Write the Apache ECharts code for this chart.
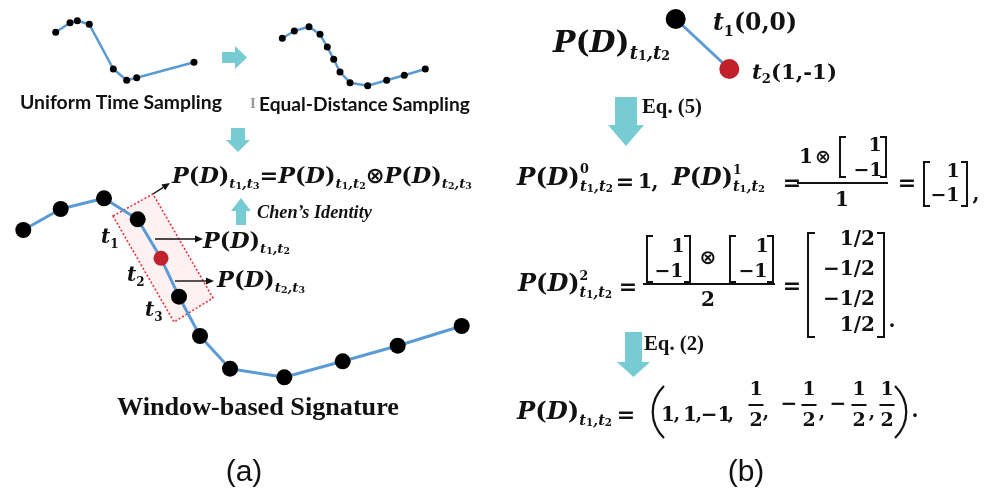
<!DOCTYPE html>
<html><head><meta charset="utf-8">
<script src="https://cdn.jsdelivr.net/npm/echarts@6/dist/echarts.min.js"></script>
<style>html,body{margin:0;padding:0;background:#fff}#c{width:985px;height:501px}</style>
</head><body><div id="c"></div>
<script>
// ---- data (diagram coordinates) ----
const uniformPts = [[55.7,32.3],[70,22.7],[77.3,20.7],[89.3,24.3],[113.3,69],[126.7,80.3],[136.7,77.7],[194,62.3]];
const equalPts = [[282.3,38.3],[294.3,31],[309,26.7],[320,34.3],[327.3,47],[333.7,59.3],[340,72],[350,82.7],[367.7,85.7],[386.7,80.3],[404.3,75.3],[425.3,69]];
const windowPts = [[23.3,230],[60.7,209],[104,198.3],[137.7,219.3],[161,258.3],[179,296.7],[200,336],[230,368.7],[284.3,377.3],[342.7,361.3],[397.7,345.7],[461.7,326]];
const redIndex = 4;
const windowBox = [[113,216],[153,194],[213,298],[174,322]];
const segmentPts = [[675.7,19],[729.3,69]];
const labels = {uniform:'Uniform Time Sampling', equal:'Equal-Distance Sampling', window:'Window-based Signature', chen:'Chen\u2019s Identity', eq5:'Eq. (5)', eq2:'Eq. (2)', a:'(a)', b:'(b)'};

const BLUE='#5B9BD5', RED='#C0212B', CYAN='#77CBD2', INK='#111';
const meas=document.createElement('canvas').getContext('2d');
const FAM={I:{f:'"DejaVu Serif"',w:'bold',s:'italic'},B:{f:'"DejaVu Serif"',w:'bold',s:'normal'},S:{f:'"DejaVu Sans"',w:'bold',s:'normal'},
  L:{f:'Lato',w:'bold',s:'normal'},T:{f:'"Liberation Serif"',w:'bold',s:'normal'},TI:{f:'"Liberation Serif"',w:'bold',s:'italic'},A:{f:'"Liberation Sans"',w:'normal',s:'normal'}};
function fontStr(k,size){const F=FAM[k];return `${F.s} ${F.w} ${size}px ${F.f}`;}
function tw(t,k,size){meas.font=fontStr(k,size);return meas.measureText(t).width;}
const g=[];
function T(text,x,y,k,size,align,color){const F=FAM[k];
  g.push({type:'text',z:20,silent:true,style:{text,x,y,fill:color||INK,fontSize:size,fontFamily:F.f.replace(/"/g,''),fontWeight:F.w,fontStyle:F.s,
    align:align||'center',verticalAlign:'middle',textAlign:align||'center',textVerticalAlign:'middle'}});}
function fitT(text,x,y,k,w,align,color){const s=20*w/tw(text,k,20);T(text,x,y,k,s,align||'left',color);}
function runWidth(tokens,base){let x=0,m=0;for(const t of tokens){const w=tw(t[0],t[1],base*t[2]);m=Math.max(m,x+w);if(!t[4])x+=w;}return m;}
function run(x0,y,tokens,base,target){if(target)base=base*target/runWidth(tokens,base);let x=x0;
  for(const t of tokens){const s=base*t[2];const w=tw(t[0],t[1],s);T(t[0],x,y+t[3]*base,t[1],s,'left');if(!t[4])x+=w;}return x;}
const PD=[['P','I',1,0],['(','B',1,0],['D','I',1,0],[')','B',1,0]];
function SUB(a,b){return [['t','I',.6,.33],[a,'B',.42,.44],[',','I',.6,.33],['t','I',.6,.33],[b,'B',.42,.44]];}
function SUP(c){return [[c,'B',.52,-.36,true]];}
function line(x1,y1,x2,y2,w,c){g.push({type:'line',z:15,silent:true,shape:{x1,y1,x2,y2},style:{stroke:c||INK,lineWidth:w||2}});}
function poly(points,fill){g.push({type:'polygon',z:15,silent:true,shape:{points},style:{fill}});}
function arrow(x1,y1,x2,y2){const a=Math.atan2(y2-y1,x2-x1),L=8,W=3.5;
  const bx=x2-L*Math.cos(a),by=y2-L*Math.sin(a);line(x1,y1,bx,by,1.4);
  poly([[x2,y2],[bx+W*Math.sin(a),by-W*Math.cos(a)],[bx-W*Math.sin(a),by+W*Math.cos(a)]],INK);}
function bracketL(x,y1,y2,w){g.push({type:'polyline',z:15,silent:true,shape:{points:[[x+w,y1],[x,y1],[x,y2],[x+w,y2]]},style:{stroke:INK,lineWidth:2,fill:null}});}
function bracketR(x,y1,y2,w){g.push({type:'polyline',z:15,silent:true,shape:{points:[[x-w,y1],[x,y1],[x,y2],[x-w,y2]]},style:{stroke:INK,lineWidth:2,fill:null}});}
function paren(x1,y1,x2,y2,cx){g.push({type:'bezierCurve',z:15,silent:true,shape:{x1,y1,x2,y2,cpx1:cx,cpy1:y1+(y2-y1)*0.28,cpx2:cx,cpy2:y1+(y2-y1)*0.72},style:{stroke:INK,lineWidth:2.2,fill:null}});}

// ---- left panel texts ----
fitT(labels.uniform,20,103,'L',202);
fitT(labels.equal,259,105,'L',211);
T('I',253,104,'T',15,'center','#999');
run(172,177,[...PD,...SUB('1','3'),['=','B',1,0],...PD,...SUB('1','2'),['\u2297','S',1,0],...PD,...SUB('2','3')],20,300);
fitT(labels.chen,257,213,'TI',115);
run(203,242,[...PD,...SUB('1','2')],20,87);
run(217,281,[...PD,...SUB('2','3')],20,88);
run(101,238,[['t','I',1,0],['1','B',.6,.33]],20);
run(127,276,[['t','I',1,0],['2','B',.6,.33]],20);
run(145,311,[['t','I',1,0],['3','B',.6,.33]],20);
arrow(153,194,170,183);
arrow(155,239,203,239);
arrow(175,281,214,281);
fitT(labels.window,117,408,'T',282);
T(labels.a,244,473,'A',30);
// cyan arrows
poly([[222,52],[235,52],[235,46],[247,57.5],[235,69],[235,63],[222,63]],CYAN);
poly([[231,128],[245,128],[245,140],[250,140],[238,152],[226,140],[231,140]],CYAN);
poly([[236,225],[246,225],[246,211],[251,211],[241,198],[231,211],[236,211]],CYAN);

// ---- right panel ----
run(553,44,[...PD,...SUB('1','2')],26,117);
run(713,24,[['t','I',1,0],['1','B',.62,.33],['(0,0)','B',1,0]],22,84);
run(752,73,[['t','I',1,0],['2','B',.62,.33],['(1,-1)','B',1,0]],22,85);
poly([[615,97],[637,97],[637,125],[644,125],[626,146],[608,125],[615,125]],CYAN);
fitT(labels.eq5,642,108,'T',60);
// row 1
run(517,179,[...PD,...SUP('0'),...SUB('1','2')],22,96);
T('=',625,183,'B',22); T('1',645,183,'B',21); T(',',655,183,'B',20);
run(672,179,[...PD,...SUP('1'),...SUB('1','2')],22,93);
T('=',792,184,'B',22);
T('1',806,158,'B',20); T('\u2297',823,158,'S',19);
bracketL(840,137,177,6); T('1',875,146,'B',19); T('\u22121',868,171,'B',19); bracketR(886,137,177,6);
line(797,183,888,183,2);
T('1',842,201,'B',20);
T('=',907,184,'B',22);
bracketL(924,162,206,6); T('1',953,172,'B',19); T('\u22121',945,196,'B',19); bracketR(967,162,206,6);
T(',',976,195,'B',20);
// row 2
run(518,285,[...PD,...SUP('2'),...SUB('1','2')],22,94);
T('=',628,288,'B',22);
bracketL(647,236,282,6); T('1',678,247,'B',19); T('\u22121',669,272,'B',19); bracketR(690,236,282,6);
T('\u2297',708,259,'S',20);
bracketL(730,236,282,6); T('1',762,247,'B',19); T('\u22121',753,272,'B',19); bracketR(773,236,282,6);
line(643,284,775,284,2);
T('2',708,301,'B',20);
T('=',792,287,'B',22);
bracketL(808,233,337,7);
T('1/2',875,240,'B',20,'right'); T('\u22121/2',875,270,'B',20,'right'); T('\u22121/2',875,300,'B',20,'right'); T('1/2',875,326,'B',20,'right');
bracketR(884,233,337,7);
T('.',892,322,'B',20);
// Eq (2)
poly([[625,332],[642,332],[642,362],[650,362],[633.5,377],[617,362],[625,362]],CYAN);
fitT(labels.eq2,644,345,'T',60);
// row 3
run(517,413,[...PD,...SUB('1','2')],22,95);
T('=',626,416,'B',22);
paren(664,386,664,438,649);
T('1',668,416,'B',20); T(',',677,415,'B',18);
T('1',690,416,'B',20); T(',',699,415,'B',18);
T('\u22121',716,416,'B',20); T(',',731,415,'B',18);
function frac(cx,w){T('1',cx,390,'B',19);line(cx-w/2,405,cx+w/2,405,2);T('2',cx,421,'B',19);}
frac(756,15); T(',',766,413,'B',18);
T('\u2212',789,405,'B',20); frac(809,15); T(',',822,413,'B',18);
T('\u2212',838,405,'B',20); frac(859,15); T(',',872,413,'B',18);
frac(887,15);
paren(895,386,895,438,910);
T('.',915,412,'B',20);
T(labels.b,746,473,'A',30);

const chart=echarts.init(document.getElementById('c'),null,{renderer:'canvas'});
const lineBase={type:'line',symbol:'circle',showAllSymbol:true,silent:true,animation:false,emphasis:{disabled:true},z:3};
chart.setOption({
  animation:false,
  grid:{left:0,right:0,top:0,bottom:0},
  xAxis:{type:'value',min:0,max:985,show:false},
  yAxis:{type:'value',min:0,max:501,inverse:true,show:false},
  series:[
    {type:'custom',coordinateSystem:'cartesian2d',silent:true,z:1,data:[[0,0]],
     renderItem:(p,api)=>({type:'polygon',shape:{points:windowBox.map(pt=>api.coord(pt))},style:{fill:'#FDF1F1',stroke:'#E8333A',lineWidth:1.6,lineDash:[2,2]}})},
    {...lineBase,data:uniformPts,symbolSize:7,lineStyle:{color:BLUE,width:2.5},itemStyle:{color:'#000'}},
    {...lineBase,data:equalPts,symbolSize:7,lineStyle:{color:BLUE,width:2.5},itemStyle:{color:'#000'}},
    {...lineBase,data:windowPts.map((p,i)=>i===redIndex?{value:p,symbolSize:15,itemStyle:{color:RED}}:p),symbolSize:16,lineStyle:{color:BLUE,width:3},itemStyle:{color:'#000'}},
    {...lineBase,data:segmentPts.map((p,i)=>i===1?{value:p,itemStyle:{color:RED}}:p),symbolSize:20,lineStyle:{color:BLUE,width:3},itemStyle:{color:'#000'}}
  ],
  graphic:g
});
</script></body></html>
